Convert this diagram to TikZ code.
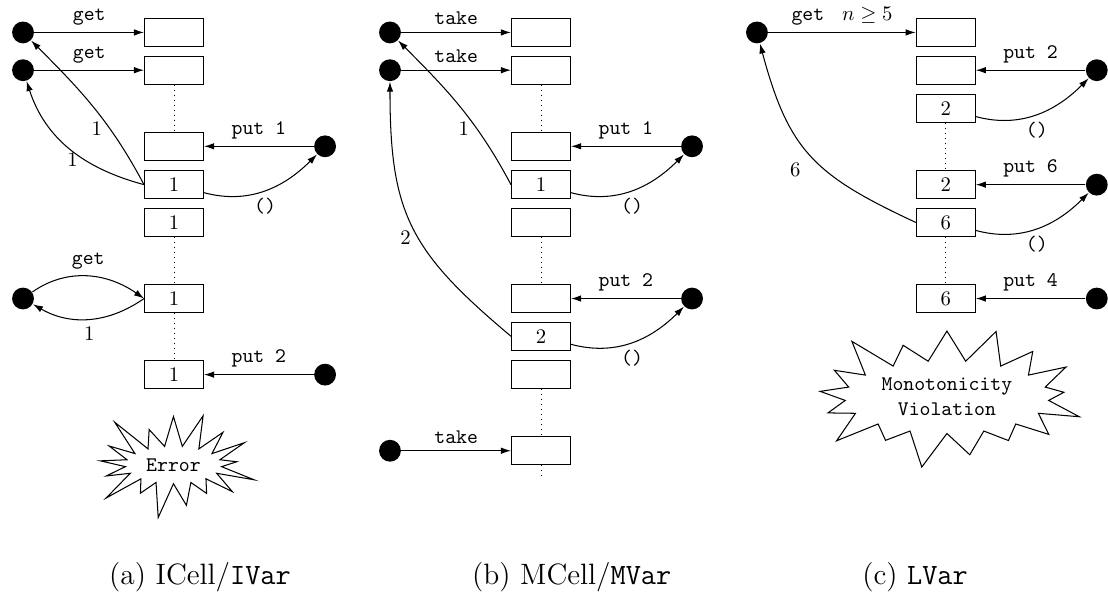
\documentclass[tikz,border=0pt]{standalone}
\usepackage{tikz}
\usetikzlibrary{arrows,arrows.meta,shapes.symbols}
\usepackage{amssymb}
\usepackage{amsmath}
\begin{document}
\begin{tikzpicture}[line width=0.5pt, >={Latex[length=1.7mm,width=1.1mm]},
  cell/.style={draw, rectangle, minimum width=1cm, minimum height=0.48cm, inner sep=0pt},
  dot/.style={circle, fill=black, minimum size=0.37cm, inner sep=0pt},
  burst/.style={starburst, draw, random starburst=100, starburst point height=0.7cm, font=\ttfamily},
  subcap/.style={font=\fontsize{14.2}{17}\selectfont}]
\useasboundingbox (0,0) rectangle (18.78cm,-10.03cm);
% (a) ICell / IVar
\node[cell] (a0) at (2.95cm,-0.55cm) {};
\node[cell] (a1) at (2.95cm,-1.19cm) {};
\node[cell] (a3) at (2.95cm,-2.48cm) {};
\node[cell] (a4) at (2.95cm,-3.13cm) {1};
\node[cell] (a5) at (2.95cm,-3.77cm) {1};
\node[cell] (a7) at (2.95cm,-5.06cm) {1};
\node[cell] (a9) at (2.95cm,-6.35cm) {1};
\node[dot] (ad0) at (0.39cm,-0.55cm) {};
\node[dot] (ad1) at (0.39cm,-1.19cm) {};
\node[dot] (ad3) at (5.51cm,-2.48cm) {};
\node[dot] (ad7) at (0.39cm,-5.06cm) {};
\node[dot] (ad9) at (5.51cm,-6.35cm) {};
\draw[dotted,thin] (a1.south) -- (a3.north);
\draw[dotted,thin] (a5.south) -- (a7.north);
\draw[dotted,thin] (a7.south) -- (a9.north);
\draw[->] (ad0) -- node[above] {\texttt{get}} (a0);
\draw[->] (ad1) -- node[above] {\texttt{get}} (a1);
\draw[->] (ad3) -- node[above] {\texttt{put 1}} (a3);
\draw[->] (a4.west) to [out=118,in=-45] node[pos=0.35,left] {1} (ad0);
\draw[->] (a4.west) to [out=165,in=-72] node[pos=0.38,left] {1} (ad1);
\draw[->] (a4) to [out=-15,in=-135] node[below] {\texttt{()}} (ad3);
\draw[->] (ad7) to [out=35,in=145] node[above] {\texttt{get}} (a7.west);
\draw[->] (a7.west) to [out=-145,in=-30] node[below] {1} (ad7);
\draw[->] (ad9) -- node[above] {\texttt{put 2}} (a9);
\node[burst, minimum width=2.95cm, minimum height=1.8cm] (aerr) at (2.94cm,-7.88cm) {Error};
% (b) MCell / MVar
\node[cell] (b0) at (9.17cm,-0.55cm) {};
\node[cell] (b1) at (9.17cm,-1.19cm) {};
\node[cell] (b3) at (9.17cm,-2.48cm) {};
\node[cell] (b4) at (9.17cm,-3.13cm) {1};
\node[cell] (b5) at (9.17cm,-3.77cm) {};
\node[cell] (b7) at (9.17cm,-5.06cm) {};
\node[cell] (b8) at (9.17cm,-5.70cm) {2};
\node[cell] (b9) at (9.17cm,-6.35cm) {};
\node[cell] (b11) at (9.17cm,-7.64cm) {};
\coordinate (b12) at (9.17cm,-8.08cm);
\node[dot] (bd0) at (6.61cm,-0.55cm) {};
\node[dot] (bd1) at (6.61cm,-1.19cm) {};
\node[dot] (bd3) at (11.73cm,-2.48cm) {};
\node[dot] (bd7) at (11.73cm,-5.06cm) {};
\node[dot] (bd11) at (6.61cm,-7.64cm) {};
\draw[dotted,thin] (b1.south) -- (b3.north);
\draw[dotted,thin] (b5.south) -- (b7.north);
\draw[dotted,thin] (b9.south) -- (b11.north);
\draw[dotted,thin] (b11.south) -- (b12);
\draw[->] (bd0) -- node[above] {\texttt{take}} (b0);
\draw[->] (bd1) -- node[above] {\texttt{take}} (b1);
\draw[->] (bd3) -- node[above] {\texttt{put 1}} (b3);
\draw[->] (b4.west) to [out=118,in=-45] node[pos=0.35,left] {1} (bd0);
\draw[->] (b4) to [out=-15,in=-135] node[below] {\texttt{()}} (bd3);
\draw[->] (bd7) -- node[above] {\texttt{put 2}} (b7);
\draw[->] (b8.west) to [out=140,in=-90,looseness=1.2] node[pos=0.45,left] {2} (bd1);
\draw[->] (b8) to [out=-15,in=-135] node[below] {\texttt{()}} (bd7);
\draw[->] (bd11) -- node[above] {\texttt{take}} (b11);
% (c) LVar
\node[cell] (c0) at (16.03cm,-0.55cm) {};
\node[cell] (c1) at (16.03cm,-1.19cm) {};
\node[cell] (c2) at (16.03cm,-1.84cm) {2};
\node[cell] (c4) at (16.03cm,-3.13cm) {2};
\node[cell] (c5) at (16.03cm,-3.77cm) {6};
\node[cell] (c7) at (16.03cm,-5.06cm) {6};
\node[dot] (cd0) at (12.83cm,-0.55cm) {};
\node[dot] (cd1) at (18.59cm,-1.19cm) {};
\node[dot] (cd4) at (18.59cm,-3.13cm) {};
\node[dot] (cd7) at (18.59cm,-5.06cm) {};
\draw[dotted,thin] (c2.south) -- (c4.north);
\draw[dotted,thin] (c5.south) -- (c7.north);
\draw[->] (cd0) -- node[above] {\texttt{get\ } $n \geq 5$} (c0);
\draw[->] (cd1) -- node[above] {\texttt{put 2}} (c1);
\draw[->] (c2) to [out=-15,in=-135] node[below] {\texttt{()}} (cd1);
\draw[->] (cd4) -- node[above] {\texttt{put 6}} (c4);
\draw[->] (c5) to [out=-15,in=-135] node[below] {\texttt{()}} (cd4);
\draw[->] (c5.west) to [out=155,in=-75,looseness=1.2] node[pos=0.4,left,xshift=-0.3cm] {6} (cd0);
\draw[->] (cd7) -- node[above] {\texttt{put 4}} (c7);
\node[burst, minimum width=4.75cm, minimum height=2.45cm, align=center] (cerr) at (16.05cm,-6.73cm) {Monotonicity\\Violation};
% captions
\node[subcap] (capa) at (3.39cm,-9.78cm) {(a) ICell/\texttt{IVar}};
\node[subcap] (capb) at (9.69cm,-9.78cm) {(b) MCell/\texttt{MVar}};
\node[subcap] (capc) at (15.51cm,-9.78cm) {(c) \texttt{LVar}};
\end{tikzpicture}
\end{document}
